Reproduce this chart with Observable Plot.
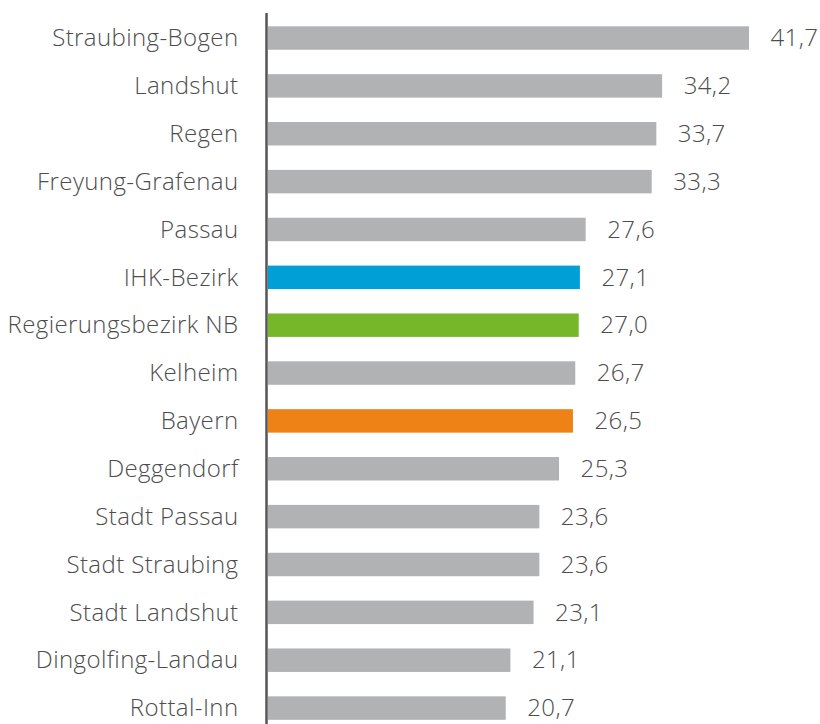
<!DOCTYPE html>
<html><head><meta charset="utf-8">
<script src="https://cdn.jsdelivr.net/npm/d3@7"></script>
<script src="https://cdn.jsdelivr.net/npm/@observablehq/plot@0.6"></script>
<style>body{margin:0;background:#fff;} svg{display:block;}</style>
</head><body><div id="chart"></div>
<script>
const regions = ["Straubing-Bogen","Landshut","Regen","Freyung-Grafenau","Passau","IHK-Bezirk","Regierungsbezirk NB","Kelheim","Bayern","Deggendorf","Stadt Passau","Stadt Straubing","Stadt Landshut","Dingolfing-Landau","Rottal-Inn"];
const values = [41.7,34.2,33.7,33.3,27.6,27.1,27.0,26.7,26.5,25.3,23.6,23.6,23.1,21.1,20.7];
const colors = ["#b1b2b4","#b1b2b4","#b1b2b4","#b1b2b4","#b1b2b4","#009fd6","#76b72a","#b1b2b4","#ee8216","#b1b2b4","#b1b2b4","#b1b2b4","#b1b2b4","#b1b2b4","#b1b2b4"];
const data = regions.map((r,i)=>({region:r, value:values[i], color:colors[i]}));
const fmt = v => v.toFixed(1).replace(".", ",");
const chart = Plot.plot({
  width: 820, height: 724,
  marginLeft: 266, marginRight: 71, marginTop: 13, marginBottom: 0,
  style: {fontFamily: "'Open Sans', sans-serif", fontWeight: 300, letterSpacing: "0.4px"},
  x: {domain: [0, 41.7], axis: null},
  y: {domain: regions, range: [26.3, 719.8], paddingInner: 0.51, paddingOuter: 0, round: false, axis: null},
  marks: [
    Plot.barX(data, {x: "value", y: "region", fill: "color", insetLeft: 2}),
    Plot.ruleX([0], {stroke: "#555", strokeWidth: 2.5}),
    Plot.axisY({tickSize: 0, tickPadding: 28, fontSize: 24, color: "#4d4d4d", label: null}),
    Plot.text(data, {x: "value", y: "region", text: d => fmt(d.value), dx: 21, textAnchor: "start", fontSize: 24, fill: "#4d4d4d"})
  ]
});
document.getElementById("chart").append(chart);
</script></body></html>
